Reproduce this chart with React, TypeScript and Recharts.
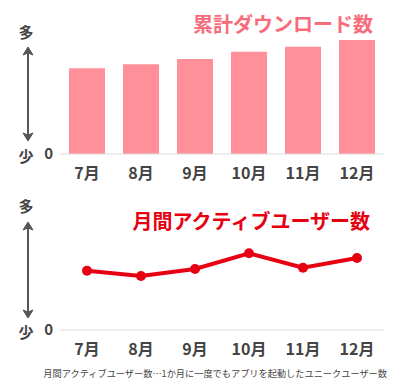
import { BarChart, Bar, LineChart, Line, XAxis, YAxis } from "recharts";

const months = ["7月", "8月", "9月", "10月", "11月", "12月"];
const downloads = [71.4, 74.8, 79.2, 85.3, 89.4, 95];
const activeUsers = [49.4, 45, 50.8, 63.9, 51.9, 60];

const downloadRows = months.map((m, i) => ({ month: m, value: downloads[i] }));
const activeRows = months.map((m, i) => ({ month: m, value: activeUsers[i] }));

const FONT = '"Noto Sans CJK JP", "Noto Sans", sans-serif';
const AXIS_TEXT = "#444";

const xTick = { fontSize: 16, fontWeight: 700, fill: AXIS_TEXT, fontFamily: FONT };
const yTick = { fontSize: 15, fontWeight: 700, fill: AXIS_TEXT, fontFamily: FONT };

// vertical double arrow with 多 / 少 labels
function Scale({ top, bottom, label1, label2 }: { top: number; bottom: number; label1: number; label2: number }) {
  return (
    <g>
      <text x={26} y={label1} textAnchor="middle" dominantBaseline="central" fontSize={15} fontWeight={700} fill={AXIS_TEXT} fontFamily={FONT}>多</text>
      <line x1={28} y1={top + 4} x2={28} y2={bottom - 4} stroke="#555" strokeWidth={2} />
      <polygon points={`23,${top + 8} 28,${top} 33,${top + 8} 28,${top + 6}`} fill="#555" stroke="#555" strokeWidth={1} strokeLinejoin="round" />
      <polygon points={`23,${bottom - 8} 28,${bottom} 33,${bottom - 8} 28,${bottom - 6}`} fill="#555" stroke="#555" strokeWidth={1} strokeLinejoin="round" />
      <text x={26} y={label2} textAnchor="middle" dominantBaseline="central" fontSize={15} fontWeight={700} fill={AXIS_TEXT} fontFamily={FONT}>少</text>
    </g>
  );
}

export default function App() {
  return (
    <div style={{ position: "absolute", left: 0, top: 0, width: 400, height: 386, background: "#fff", fontFamily: FONT }}>
      <div style={{ position: "absolute", left: 0, top: 0 }}>
        <BarChart width={400} height={190} data={downloadRows} margin={{ top: 34, right: 16, left: 0, bottom: 6 }}>
          <XAxis dataKey="month" height={30} tick={xTick} tickLine={false} tickSize={0} tickMargin={14} axisLine={{ stroke: "#ddd" }} />
          <YAxis width={60} domain={[0, 100]} ticks={[0]} tick={yTick} tickLine={false} tickSize={0} tickMargin={7} axisLine={false} />
          <Bar dataKey="value" fill="#ff9099" barSize={36} isAnimationActive={false} />
        </BarChart>
      </div>
      <div style={{ position: "absolute", left: 0, top: 190 }}>
        <LineChart width={400} height={196} data={activeRows} margin={{ top: 20, right: 16, left: 0, bottom: 26 }}>
          <XAxis dataKey="month" height={30} padding={{ left: 27, right: 27 }} tick={xTick} tickLine={false} tickSize={0} tickMargin={14} axisLine={{ stroke: "#ddd" }} />
          <YAxis width={60} domain={[0, 100]} ticks={[0]} tick={yTick} tickLine={false} tickSize={0} tickMargin={7} axisLine={false} />
          <Line type="linear" dataKey="value" stroke="#e60012" strokeWidth={4} dot={{ r: 5, fill: "#e60012", stroke: "none" }} isAnimationActive={false} />
        </LineChart>
      </div>
      <svg width={400} height={386} style={{ position: "absolute", left: 0, top: 0, pointerEvents: "none" }}>
        <text x={373} y={23} textAnchor="end" dominantBaseline="central" fontSize={20} fontWeight={700} fill="#f76b7b" fontFamily={FONT}>累計ダウンロード数</text>
        <text x={370} y={220} textAnchor="end" dominantBaseline="central" fontSize={20} fontWeight={700} fill="#e60012" fontFamily={FONT}>月間アクティブユーザー数</text>
        <Scale top={47} bottom={141} label1={31} label2={155} />
        <Scale top={222} bottom={318} label1={205} label2={331} />
        <text x={387} y={373} textAnchor="end" dominantBaseline="central" fontSize={9.2} fill="#444" fontFamily={FONT}>月間アクティブユーザー数…1か月に一度でもアプリを起動したユニークユーザー数</text>
      </svg>
    </div>
  );
}
